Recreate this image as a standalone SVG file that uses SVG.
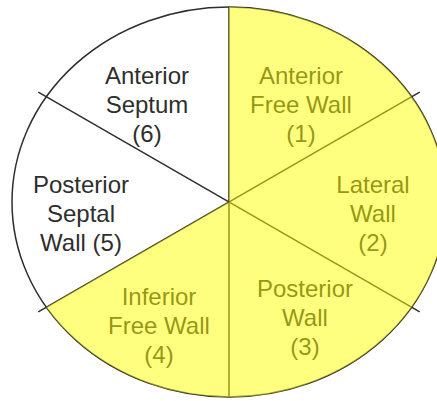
<svg xmlns="http://www.w3.org/2000/svg" width="437" height="401" viewBox="0 0 437 401">
  <style>
    .lbl { font-family: "Liberation Sans", Arial, sans-serif; font-size: 24px; fill: #2e2e2e; text-anchor: middle; }
    .ln { stroke: #2e2e2e; stroke-width: 1.5; fill: none; }
    .tint { fill: #FFFF00; fill-opacity: 0.5; stroke: none; }
  </style>
  <rect width="437" height="401" fill="#ffffff"/>
  <ellipse id="outline" cx="229" cy="202" rx="217" ry="195" class="ln"/>
  <g id="connectors">
    <line class="ln" x1="229" y1="7" x2="229" y2="397"/>
    <line class="ln" x1="38.3" y1="92.2" x2="419.7" y2="311.8"/>
    <line class="ln" x1="38.3" y1="311.8" x2="419.7" y2="92.2"/>
  </g>
  <g id="seg6">
    <text class="lbl" x="147" y="84">Anterior</text>
    <text class="lbl" x="147" y="113">Septum</text>
    <text class="lbl" x="147" y="142">(6)</text>
  </g>
  <g id="seg5">
    <text class="lbl" x="81" y="193">Posterior</text>
    <text class="lbl" x="81" y="222">Septal</text>
    <text class="lbl" x="81" y="251">Wall (5)</text>
  </g>
  <g id="seg1">
    <text class="lbl" x="301" y="84">Anterior</text>
    <text class="lbl" x="301" y="113">Free Wall</text>
    <text class="lbl" x="301" y="142">(1)</text>
  </g>
  <g id="seg2">
    <text class="lbl" x="373" y="193">Lateral</text>
    <text class="lbl" x="373" y="222">Wall</text>
    <text class="lbl" x="373" y="251">(2)</text>
  </g>
  <g id="seg3">
    <text class="lbl" x="305" y="297">Posterior</text>
    <text class="lbl" x="305" y="326">Wall</text>
    <text class="lbl" x="305" y="355">(3)</text>
  </g>
  <g id="seg4">
    <text class="lbl" x="159" y="305">Inferior</text>
    <text class="lbl" x="159" y="334">Free Wall</text>
    <text class="lbl" x="159" y="363">(4)</text>
  </g>
  <path id="highlight" class="tint" d="M229,202 L229,7 A217,195 0 1,1 46.3,307.2 Z"/>
</svg>
